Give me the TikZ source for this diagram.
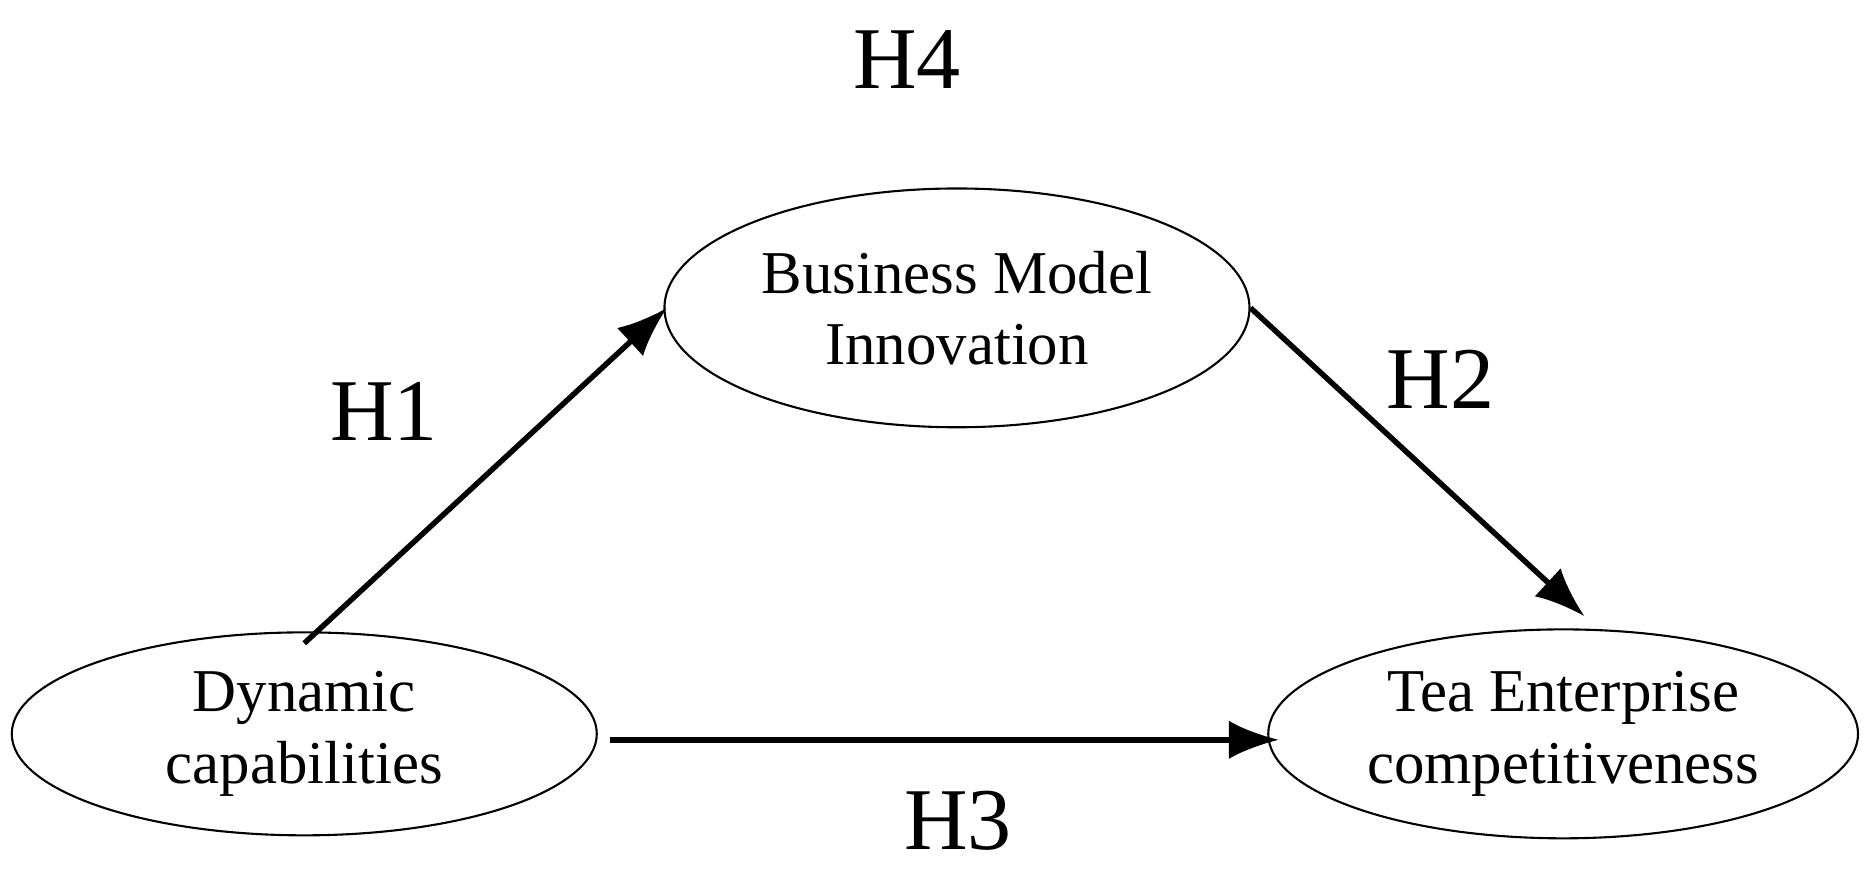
\documentclass[tikz,border=0pt]{standalone}
\usepackage{fontspec}
\setmainfont{Liberation Serif}
\usetikzlibrary{shapes.geometric,arrows.meta}
\begin{document}
\begin{tikzpicture}[x=0.01cm,y=-0.01cm,
  el/.style={ellipse,draw,line width=0.5pt,inner sep=0pt,align=center,font=\fontsize{14.5}{17}\selectfont},
  lab/.style={font=\fontsize{21}{24}\selectfont},
  arr/.style={line width=1.3pt,-{Latex[length=0.42cm,width=0.32cm]}}]
\useasboundingbox (0,0) rectangle (1568,729);
\node[el,minimum width=490\pgflinewidth*0+4.9cm,minimum height=1.7cm] (dc) at (255,615) {Dynamic\\capabilities};
\node[el,minimum width=4.9cm,minimum height=2.0cm] (bmi) at (802,258) {Business Model\\Innovation};
\node[el,minimum width=4.94cm,minimum height=1.75cm] (tec) at (1310,615) {Tea Enterprise\\competitiveness};
\node[lab] (h4) at (760,50) {H4};
\node[lab] (h1) at (322,345) {H1};
\node[lab] (h2) at (1207,318) {H2};
\node[lab] (h3) at (803,688) {H3};
\draw[arr] ([yshift=-0.1cm]dc.north) -- ([xshift=0.03cm]bmi.west);
\draw[arr] (bmi.east) -- ([xshift=0.18cm,yshift=0.1cm]tec.north);
\draw[arr] ([xshift=0.1cm,yshift=-0.05cm]dc.east) -- ([xshift=0.1cm,yshift=-0.05cm]tec.west);
\end{tikzpicture}
\end{document}
